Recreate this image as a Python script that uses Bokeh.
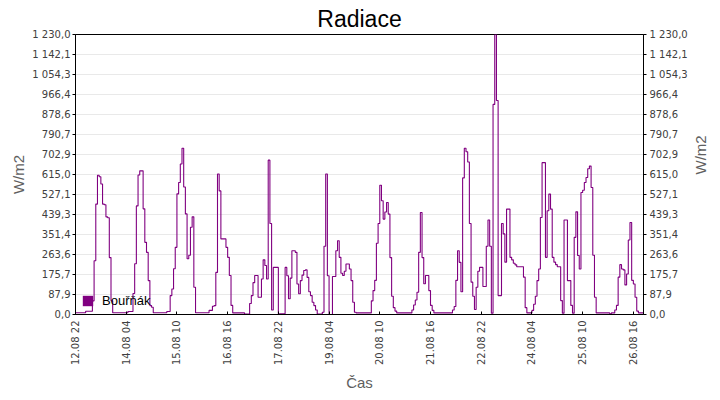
from datetime import datetime
import numpy as np
import pandas as pd
from bokeh.plotting import figure
from bokeh.models import Range1d, FixedTicker, LinearAxis, Legend, LegendItem
from bokeh.embed import file_html
from bokeh.resources import INLINE

# ---- data (hourly, starting 12.08 22:00) ----
start = datetime(2024, 8, 12, 22)
end = datetime(2024, 8, 26, 22)
series_name = "Bouřňák"
radiation = [
    8, 8, 8, 8, 8, 8, 14, 14, 14, 14,
    60, 236, 485, 612, 605, 573, 485, 482, 429, 425,
    250, 60, 8, 8, 8, 8, 8, 8, 8, 8,
    8, 13, 13, 13, 92, 223, 477, 613, 631, 631,
    464, 317, 273, 149, 39, 32, 8, 8, 8, 8,
    8, 8, 8, 8, 13, 13, 83, 112, 201, 295,
    530, 580, 661, 730, 560, 442, 245, 260, 383, 429,
    120, 8, 8, 8, 8, 8, 8, 8, 8, 18,
    18, 36, 39, 185, 617, 543, 332, 332, 332, 295,
    251, 171, 40, 7, 7, 7, 7, 7, 7, 7,
    2, 2, 2, 48, 83, 140, 171, 171, 76, 76,
    156, 240, 215, 156, 678, 400, 20, 207, 207, 207,
    3, 3, 3, 3, 207, 170, 69, 160, 280, 280,
    273, 134, 91, 149, 173, 193, 196, 163, 100, 83,
    54, 39, 20, 2, 2, 2, 10, 300, 617, 170,
    0, 0, 167, 167, 280, 324, 251, 181, 171, 190,
    222, 222, 200, 149, 54, 10, 7, 7, 7, 7,
    7, 7, 7, 7, 7, 60, 105, 150, 313, 400,
    568, 500, 419, 450, 492, 441, 250, 80, 30, 15,
    7, 7, 7, 7, 7, 7, 7, 7, 7, 20,
    42, 64, 98, 273, 448, 250, 135, 171, 171, 105,
    40, 18, 7, 7, 7, 7, 7, 7, 7, 7,
    7, 7, 7, 20, 35, 150, 280, 229, 100, 600,
    730, 715, 670, 400, 142, 80, 22, 120, 190, 207,
    207, 123, 123, 300, 415, 300, 6, 923, 1230, 940,
    83, 83, 400, 354, 230, 463, 463, 251, 240, 225,
    218, 210, 210, 210, 210, 164, 30, 7, 7, 7,
    18, 45, 80, 149, 200, 426, 667, 667, 251, 456,
    529, 463, 251, 230, 219, 210, 210, 61, 6, 415,
    415, 149, 149, 40, 6, 339, 451, 259, 200, 536,
    546, 580, 602, 640, 652, 558, 260, 76, 7, 7,
    7, 7, 7, 7, 7, 7, 3, 7, 7, 20,
    40, 164, 219, 200, 196, 130, 178, 327, 404, 150,
    134, 76, 15, 7, 7, 7, 7,
]
times = pd.date_range(start, periods=len(radiation), freq="h")

x_tick_labels = ["12.08 22", "14.08 04", "15.08 10", "16.08 16", "17.08 22",
                 "19.08 04", "20.08 10", "21.08 16", "22.08 22", "24.08 04",
                 "25.08 10", "26.08 16"]
y_tick_labels = ["0,0", "87,9", "175,7", "263,6", "351,4", "439,3", "527,1",
                 "615,0", "702,9", "790,7", "878,6", "966,4", "1 054,3",
                 "1 142,1", "1 230,0"]
x_title = "Čas"
y_title = "W/m2"

EPOCH = datetime(1970, 1, 1)
def to_ms(d):
    return (d - EPOCH).total_seconds() * 1000.0

x_ticks = [to_ms(datetime.strptime(s + " 2024", "%d.%m %H %Y")) for s in x_tick_labels]
y_ticks = [float(s.replace(" ", "").replace(",", ".")) for s in y_tick_labels]

PURPLE = "#800080"
TICK_FONT = "DejaVu Sans"
LABEL_FONT = "Liberation Sans"

p = figure(width=720, height=400, x_axis_type="datetime",
           x_range=Range1d(start, end), y_range=Range1d(0, 1230),
           output_backend="svg", toolbar_location=None, title="Radiace",
           min_border_left=75, min_border_right=76,
           min_border_top=33, min_border_bottom=86)

p.step(times, radiation, mode="after", line_color=PURPLE, line_width=1.1)
swatch = p.vbar(x=times, top=radiation, width=0, fill_color=PURPLE, line_color=None)

legend = Legend(items=[LegendItem(label=series_name, renderers=[swatch])],
                location=(6, 6), padding=0, margin=0, spacing=0,
                glyph_width=13, glyph_height=13, label_height=13,
                label_standoff=8, label_text_font=LABEL_FONT,
                label_text_font_size="13px", label_text_color="black",
                background_fill_alpha=0, border_line_color=None)
p.add_layout(legend)

p.title.text_font = LABEL_FONT
p.title.text_font_size = "23px"
p.title.text_font_style = "normal"
p.title.text_color = "black"
p.title.align = "center"
p.title.standoff = 6

p.outline_line_color = "black"
p.outline_line_width = 1
p.background_fill_color = "white"
p.border_fill_color = "white"

p.xgrid.visible = False
p.ygrid.ticker = FixedTicker(ticks=y_ticks)
p.ygrid.grid_line_color = "#e9e9e9"

xa = p.xaxis[0]
xa.ticker = FixedTicker(ticks=x_ticks)
xa.major_label_overrides = {t: s for t, s in zip(x_ticks, x_tick_labels)}
xa.major_label_orientation = np.pi / 2
xa.major_tick_in = 3
xa.major_tick_out = 0
xa.minor_tick_line_color = None
xa.major_label_standoff = 6
xa.axis_label = x_title
xa.axis_label_standoff = 6

ya = p.yaxis[0]
yr = LinearAxis()
p.add_layout(yr, "right")

for ax in (ya, yr):
    ax.ticker = FixedTicker(ticks=y_ticks)
    ax.major_label_overrides = {t: s for t, s in zip(y_ticks, y_tick_labels)}
    ax.major_tick_in = 0
    ax.major_tick_out = 3
    ax.minor_tick_line_color = None
    ax.axis_label = y_title
ya.major_label_standoff = 2
ya.axis_label_standoff = 2
yr.major_label_standoff = 3
yr.axis_label_standoff = 10
try:
    yr.axis_label_orientation = np.pi / 2
except Exception:
    pass

for ax in (xa, ya, yr):
    ax.axis_line_color = "black"
    ax.major_tick_line_color = "black"
    ax.major_label_text_font = TICK_FONT
    ax.major_label_text_font_size = "10px"
    ax.major_label_text_color = "#404040"
    ax.axis_label_text_font = LABEL_FONT
    ax.axis_label_text_font_size = "15px"
    ax.axis_label_text_font_style = "normal"
    ax.axis_label_text_color = "#606060"

open("out.html", "w").write(file_html(p, INLINE))
